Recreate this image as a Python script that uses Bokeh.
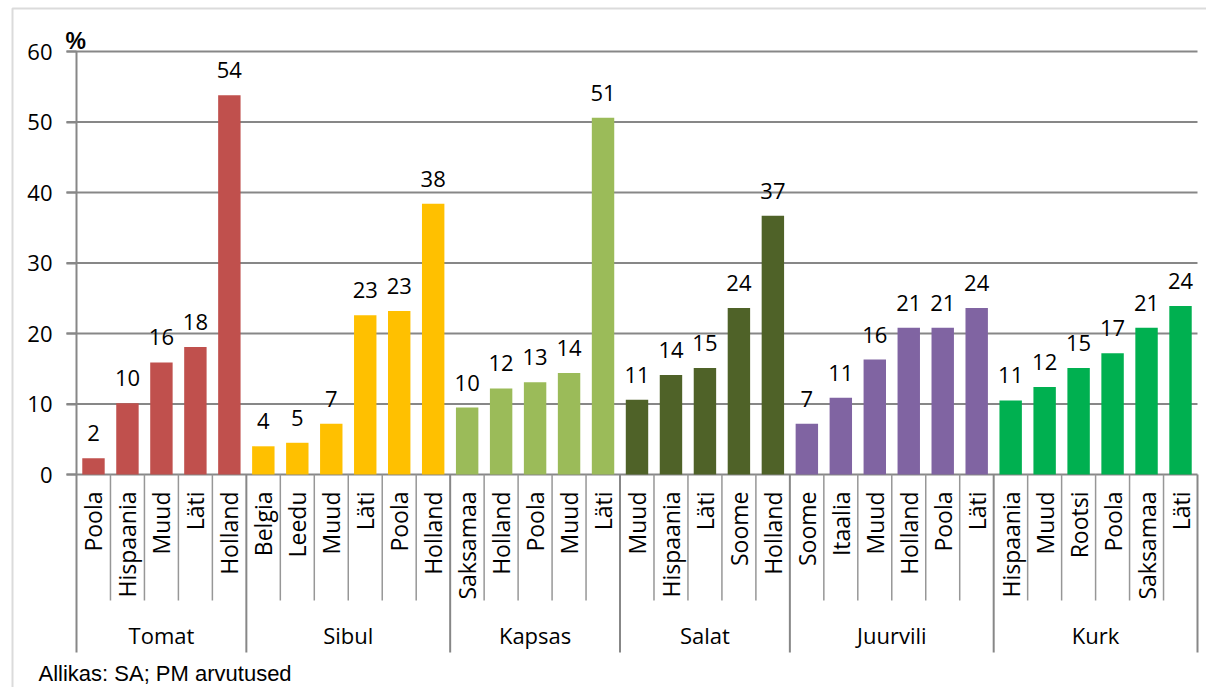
import math
from bokeh.plotting import figure
from bokeh.models import Range1d, FixedTicker, BoxAnnotation, ColumnDataSource
from bokeh.core.properties import value
from bokeh.embed import file_html
from bokeh.resources import INLINE

# ---- data -------------------------------------------------------------
groups = ["Tomat", "Sibul", "Kapsas", "Salat", "Juurvili", "Kurk"]
group_colors = ["#C0504D", "#FFC000", "#9BBB59", "#4F6228", "#8064A2", "#00B050"]

tomat_countries = ["Poola", "Hispaania", "Muud", "Läti", "Holland"]
tomat_values = [2.3, 10.1, 15.9, 18.1, 53.8]
sibul_countries = ["Belgia", "Leedu", "Muud", "Läti", "Poola", "Holland"]
sibul_values = [4.0, 4.5, 7.2, 22.6, 23.2, 38.4]
kapsas_countries = ["Saksamaa", "Holland", "Poola", "Muud", "Läti"]
kapsas_values = [9.5, 12.2, 13.1, 14.4, 50.6]
salat_countries = ["Muud", "Hispaania", "Läti", "Soome", "Holland"]
salat_values = [10.6, 14.1, 15.1, 23.6, 36.7]
juurvili_countries = ["Soome", "Itaalia", "Muud", "Holland", "Poola", "Läti"]
juurvili_values = [7.2, 10.9, 16.3, 20.8, 20.8, 23.6]
kurk_countries = ["Hispaania", "Muud", "Rootsi", "Poola", "Saksamaa", "Läti"]
kurk_values = [10.5, 12.4, 15.1, 17.2, 20.8, 23.9]

y_ticks = [0, 10, 20, 30, 40, 50, 60]
y_unit_label = "%"
source_note = "Allikas: SA; PM arvutused"

# ---- build table ------------------------------------------------------
group_countries = [tomat_countries, sibul_countries, kapsas_countries,
                   salat_countries, juurvili_countries, kurk_countries]
group_values = [tomat_values, sibul_values, kapsas_values,
                salat_values, juurvili_values, kurk_values]

xs, tops, labels, countries, colors = [], [], [], [], []
group_centers, group_bounds = [], [0]
pos = 0
for cs, vs, col in zip(group_countries, group_values, group_colors):
    start = pos
    for c, v in zip(cs, vs):
        xs.append(pos + 0.5)
        tops.append(v)
        labels.append(str(int(math.floor(v + 0.5))))
        countries.append(c)
        colors.append(col)
        pos += 1
    group_centers.append((start + pos) / 2)
    group_bounds.append(pos)
n = pos
inner_bounds = [b for b in range(1, n) if b not in group_bounds]

src = ColumnDataSource(dict(x=xs, top=tops, label=labels, country=countries, color=colors))

# ---- layout constants (pixels) ---------------------------------------
FIG_W, FIG_H = 1206, 687
PLOT_LEFT, PLOT_RIGHT = 76, 1197
ZERO_PX, TOP_PX = 474, 51
cat_px = (PLOT_RIGHT - PLOT_LEFT) / n
unit_px = (ZERO_PX - TOP_PX) / y_ticks[-1]

x_range = Range1d(-PLOT_LEFT / cat_px, n + (FIG_W - PLOT_RIGHT) / cat_px)
y_range = Range1d(-(FIG_H - ZERO_PX) / unit_px, ZERO_PX / unit_px)

p = figure(width=FIG_W, height=FIG_H, output_backend="svg", toolbar_location=None,
           title=None, x_range=x_range, y_range=y_range, x_axis_location=None,
           min_border_left=0, min_border_right=0, min_border_top=0, min_border_bottom=0)
p.outline_line_color = None
p.background_fill_color = "white"
p.border_fill_color = "white"
p.xgrid.visible = False
p.ygrid.visible = False

grey = "#878787"
p.yaxis.fixed_location = 0
p.yaxis.ticker = FixedTicker(ticks=y_ticks)
p.yaxis.axis_line_color = None
p.yaxis.major_tick_out = 10
p.yaxis.major_tick_in = 0
p.yaxis.major_tick_line_color = grey
p.yaxis.major_tick_line_width = 2
p.yaxis.minor_tick_line_color = None
p.yaxis.major_label_text_font = "Open Sans"
p.yaxis.major_label_text_font_size = "22px"
p.yaxis.major_label_text_color = "#000000"
p.yaxis.major_label_standoff = 14

# horizontal gridlines (from right end back to the tick marks)
p.ray(x=[n] * len(y_ticks), y=y_ticks, length=PLOT_RIGHT - PLOT_LEFT + 10,
      length_units="screen", angle=math.pi, line_color=grey, line_width=2)

# bars
p.vbar(x="x", top="top", bottom=0, width=0.66, fill_color="color", line_color=None, source=src)

# data labels
p.text(x="x", y="top", text="label", y_offset=-25, text_align="center",
       text_baseline="alphabetic", text_font=value("Open Sans"),
       text_font_size="22px", text_color="#000000", source=src)

# separators
p.ray(x=inner_bounds, y=[0] * len(inner_bounds), length=126, length_units="screen",
      angle=-math.pi / 2, line_color="#979797", line_width=1.5)
p.ray(x=group_bounds[1:], y=[0] * (len(group_bounds) - 1), length=178, length_units="screen",
      angle=-math.pi / 2, line_color=grey, line_width=2)
p.ray(x=[0], y=[y_ticks[-1]], length=601, length_units="screen",
      angle=-math.pi / 2, line_color=grey, line_width=2)

# category labels
p.text(x="x", y=0, text="country", angle=math.pi / 2, y_offset=17,
       text_align="right", text_baseline="middle", text_font=value("Open Sans"),
       text_font_size="23px", text_color="#000000", source=src)
p.text(x=group_centers, y=[0] * len(groups), text=groups, y_offset=160,
       text_align="center", text_baseline="middle", text_font=value("Open Sans"),
       text_font_size="22px", text_color="#000000")

# unit label and source note
p.text(x=[0], y=[y_ticks[-1]], text=[y_unit_label], x_offset=-11, y_offset=-11,
       text_align="left", text_baseline="alphabetic",
       text_font=value("Liberation Sans"), text_font_style="bold",
       text_font_size="23px", text_color="#000000")
p.text(x=[0], y=[0], text=[source_note], x_offset=-38, y_offset=199,
       text_align="left", text_baseline="alphabetic",
       text_font=value("Liberation Sans"), text_font_size="22px", text_color="#000000")

# chart frame border
p.add_layout(BoxAnnotation(left=12, right=5000, top=8, bottom=5000,
                           left_units="canvas", right_units="canvas",
                           top_units="canvas", bottom_units="canvas",
                           fill_alpha=0, line_color=grey, line_width=2))

open("out.html", "w").write(file_html(p, INLINE))
